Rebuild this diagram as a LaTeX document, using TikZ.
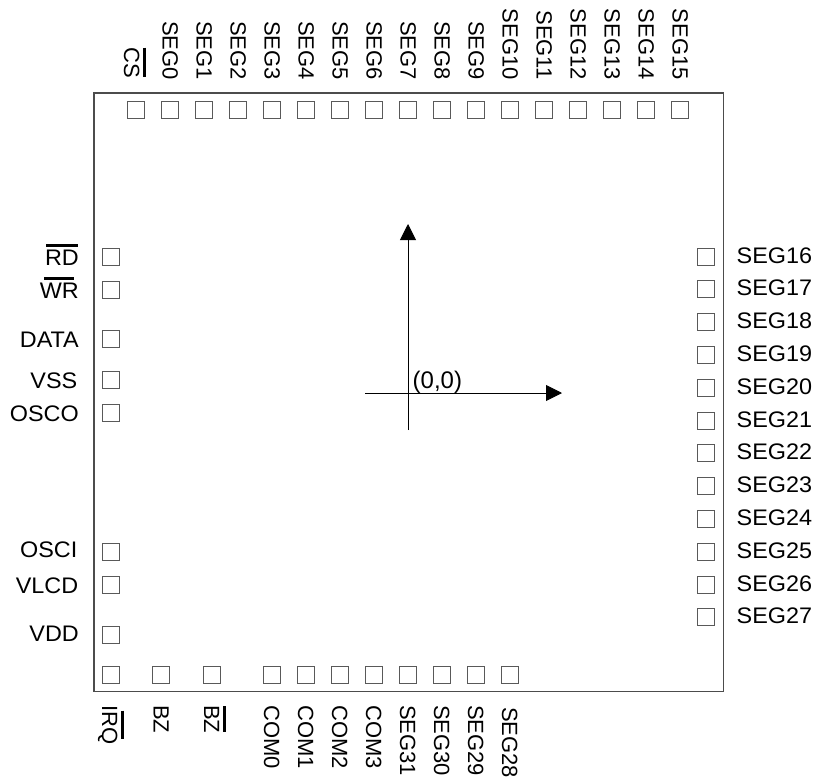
\documentclass[tikz,border=0pt]{standalone}
\usepackage{fontspec}
\setmainfont{Liberation Sans}
\newfontfamily\sidefont[FakeStretch=1.04]{Liberation Sans}
\newcommand{\padbar}[2][1pt]{\sbox0{#2}\vbox{\offinterlineskip\hbox{\kern#1\vrule height 3pt width \dimexpr\wd0-#1-#1\relax}\kern3.5pt\box0}}
\usetikzlibrary{arrows.meta}
\tikzset{
    padbox/.style={draw=black!65,line width=1pt,minimum size=17pt,inner sep=0pt},
    padtext/.style={inner sep=0pt,text height=15.8pt,text depth=0pt,font=\fontsize{22}{22}\selectfont},
    sidetext/.style={inner sep=0pt,text height=16pt,text depth=0pt,font=\sidefont\fontsize{22.5}{23}\selectfont},
    axisline/.style={line width=0.9pt,-{Triangle[length=16pt,width=16pt]}}
}
\begin{document}
\begin{tikzpicture}[x=1pt,y=-1pt]
    \useasboundingbox (0,0) rectangle (814,782);
    \draw[black!70,line width=1.3pt] (94,93) rectangle (723.3,691.3);
    % top row
    \node[padbox] (topcs) at (136,109.5) {};
    \node[padtext,rotate=-90,anchor=east] (toplabelcs) at (132,78) {\padbar[0.5pt]{CS}};
    \foreach \n in {0,...,15} {
        \node[padbox] (top\n) at ({170+34*\n},109.5) {};
        \node[padtext,rotate=-90,anchor=east] (toplabel\n) at ({170.5+34*\n},80) {SEG\n};
    }
    % left column
    \foreach \y/\ly/\lx/\name [count=\n from 0] in {257/257.5/79/\padbar[1pt]{RD},290/290.5/79/\padbar[4.5pt]{WR},339/339/79/DATA,380/380/77.5/VSS,413/413/79/OSCO,552/549.5/77.5/OSCI,585/585/78.5/VLCD,634.5/633.5/79/VDD} {
        \node[padbox] (left\n) at (111,\y) {};
        \node[sidetext,anchor=east] (leftlabel\n) at (\lx,\ly) {\name};
    }
    % right column
    \foreach \n in {16,...,27} {
        \node[padbox] (right\n) at (706,{256.5+32.8*(\n-16)}) {};
        \node[sidetext,anchor=west] (rightlabel\n) at (736.5,{255+32.8*(\n-16)}) {SEG\n};
    }
    % bottom row
    \foreach \x/\lx/\ly/\name [count=\n from 0] in {111/110/705/\padbar[5.5pt]{IRQ},161/161.5/705/BZ,212/212/705/\padbar[1.2pt]{BZ},272/272/705/COM0,306/306/705/COM1,340/340/705/COM2,374/374/705/COM3,408/408/705/SEG31,442/442/705/SEG30,476/476/705/SEG29,510/510/707/SEG28} {
        \node[padbox] (bottom\n) at (\x,675) {};
        \node[padtext,rotate=-90,anchor=west] (bottomlabel\n) at (\lx,\ly) {\name};
    }
    % origin
    \coordinate (xstart) at (365,393);
    \coordinate (xend) at (562,393);
    \coordinate (ystart) at (408,430);
    \coordinate (yend) at (408,224);
    \draw[axisline] (xstart) -- (xend);
    \draw[axisline] (ystart) -- (yend);
    \node[inner sep=0pt,anchor=base west,font=\fontsize{24}{24}\selectfont] (origin) at (412.5,388) {(0,0)};
\end{tikzpicture}
\end{document}
